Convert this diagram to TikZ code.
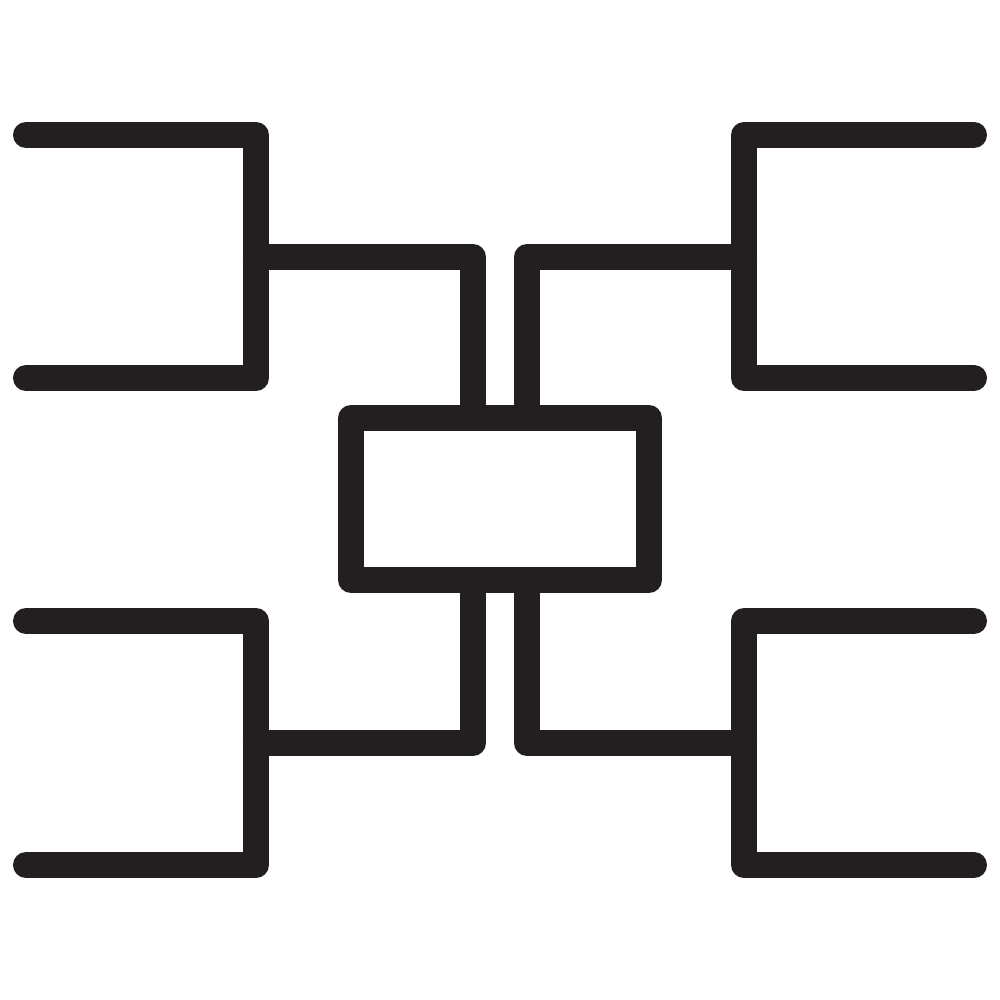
\documentclass[tikz,border=0pt]{standalone}
\definecolor{ink}{HTML}{231F20}
\begin{document}
\begin{tikzpicture}[x=0.01cm,y=-0.01cm,
  stroke/.style={draw=ink,line width=0.26cm,line cap=round,line join=round}]
\useasboundingbox (0,0) rectangle (1000,1000);
% central box
\draw[stroke] (351,418) rectangle (649,580);
% top-left bracket
\draw[stroke] (26,135) -- (256,135) -- (256,378) -- (26,378);
\draw[stroke] (256,257) -- (473,257) -- (473,418);
% bottom-left bracket
\draw[stroke] (26,621) -- (256,621) -- (256,865) -- (26,865);
\draw[stroke] (256,743) -- (473,743) -- (473,580);
% top-right bracket
\draw[stroke] (974,135) -- (744,135) -- (744,378) -- (974,378);
\draw[stroke] (744,257) -- (527,257) -- (527,418);
% bottom-right bracket
\draw[stroke] (974,621) -- (744,621) -- (744,865) -- (974,865);
\draw[stroke] (744,743) -- (527,743) -- (527,580);
\end{tikzpicture}
\end{document}
